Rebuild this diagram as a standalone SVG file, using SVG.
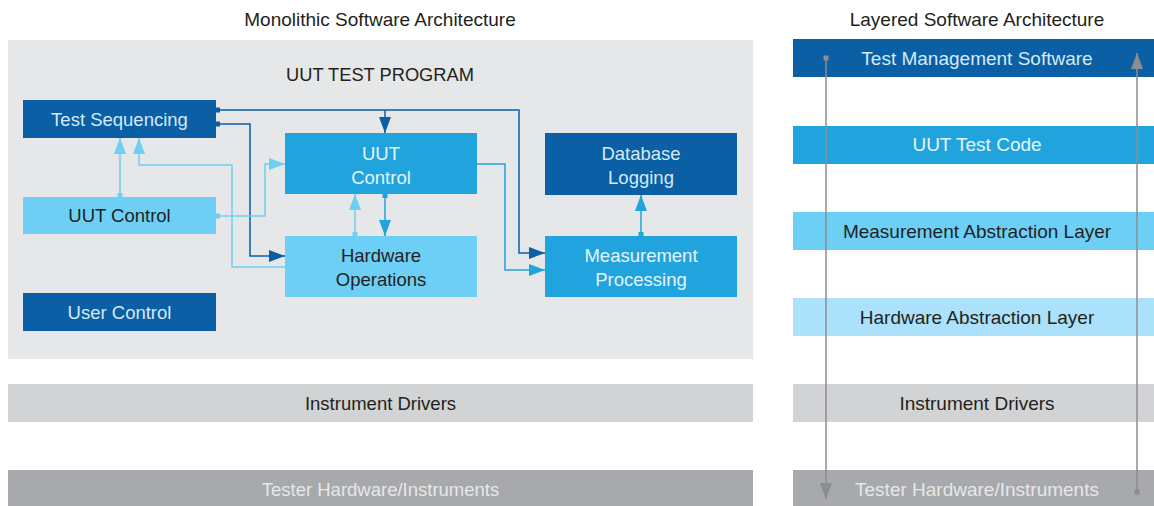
<svg xmlns="http://www.w3.org/2000/svg" width="1154" height="506" viewBox="0 0 1154 506">
<style>
text{font-family:"Liberation Sans",Arial,sans-serif;font-size:18.5px;text-anchor:middle}
.title{font-size:18.3px;fill:#231f20}
.big{font-size:19px}
.dk{fill:#0a5fa5}.md{fill:#21a4dd}.lt{fill:#6dcff6}.xl{fill:#abe1fa}
.g1{fill:#d1d3d4}.g2{fill:#a7a9ac}
.tdk{fill:#d5e9f7}.tmd{fill:#e4f4fc}.tlt{fill:#231f20}.tg2{fill:#e6e7e8}
.c{fill:none;stroke-width:1.5}
.cdk{stroke:#0a5fa5}.cmd{stroke:#21a4dd}.clt{stroke:#6dcff6}.cgr{stroke:#8c8d8f}
.sq-dk{fill:#0a5fa5}.sq-md{fill:#21a4dd}.sq-lt{fill:#6dcff6}.sq-gr{fill:#8c8d8f}
</style>
<defs>
<marker id="adk" markerUnits="userSpaceOnUse" markerWidth="16" markerHeight="12" refX="16" refY="6" orient="auto"><path d="M0,0 L16,6 L0,12 z" fill="#0a5fa5"/></marker>
<marker id="amd" markerUnits="userSpaceOnUse" markerWidth="16" markerHeight="12" refX="16" refY="6" orient="auto"><path d="M0,0 L16,6 L0,12 z" fill="#21a4dd"/></marker>
<marker id="alt" markerUnits="userSpaceOnUse" markerWidth="16" markerHeight="12" refX="16" refY="6" orient="auto"><path d="M0,0 L16,6 L0,12 z" fill="#6dcff6"/></marker>
<marker id="agr" markerUnits="userSpaceOnUse" markerWidth="16" markerHeight="12" refX="16" refY="6" orient="auto"><path d="M0,0 L16,6 L0,12 z" fill="#8c8d8f"/></marker>
</defs>
<rect width="1154" height="506" fill="#ffffff"/>

<text class="title big" x="380" y="26">Monolithic Software Architecture</text>
<text class="title big" x="977" y="26">Layered Software Architecture</text>

<g id="monolithic-panel">
<rect x="8" y="40" width="745" height="319" fill="#e6e7e8"/>
<text class="title" x="380" y="81">UUT TEST PROGRAM</text>
</g>

<g id="test-sequencing"><rect class="dk" x="23" y="100" width="193" height="38"/><text class="tdk" x="119.5" y="125.5">Test Sequencing</text></g>
<g id="uut-control-left"><rect class="lt" x="23" y="197" width="193" height="37"/><text class="tlt" x="119.5" y="222">UUT Control</text></g>
<g id="user-control"><rect class="dk" x="23" y="293" width="193" height="38"/><text class="tdk" x="119.5" y="318.5">User Control</text></g>
<g id="uut-control"><rect class="md" x="285" y="133" width="192" height="61"/><text class="tmd" x="381" y="159.5">UUT</text><text class="tmd" x="381" y="183.5">Control</text></g>
<g id="hardware-operations"><rect class="lt" x="285" y="236" width="192" height="61"/><text class="tlt" x="381" y="262">Hardware</text><text class="tlt" x="381" y="286">Operations</text></g>
<g id="database-logging"><rect class="dk" x="545" y="133" width="192" height="62"/><text class="tdk" x="641" y="159.5">Database</text><text class="tdk" x="641" y="183.5">Logging</text></g>
<g id="measurement-processing"><rect class="md" x="545" y="236" width="192" height="61"/><text class="tmd" x="641" y="262">Measurement</text><text class="tmd" x="641" y="286">Processing</text></g>

<g id="instrument-drivers-left"><rect class="g1" x="8" y="384" width="745" height="38"/><text class="tlt" x="380.5" y="409.5">Instrument Drivers</text></g>
<g id="tester-hardware-left"><rect class="g2" x="8" y="470" width="745" height="36"/><text class="tg2" x="380.5" y="495.5">Tester Hardware/Instruments</text></g>

<g id="test-management-software"><rect class="dk" x="793" y="39" width="361" height="38"/><text class="tdk big" x="977" y="64.5">Test Management Software</text></g>
<g id="uut-test-code"><rect class="md" x="793" y="126" width="361" height="38"/><text class="tmd big" x="977" y="151">UUT Test Code</text></g>
<g id="measurement-abstraction-layer"><rect class="lt" x="793" y="212" width="361" height="38"/><text class="tlt big" x="977" y="237.5">Measurement Abstraction Layer</text></g>
<g id="hardware-abstraction-layer"><rect class="xl" x="793" y="298" width="361" height="38"/><text class="tlt big" x="977" y="323.5">Hardware Abstraction Layer</text></g>
<g id="instrument-drivers-right"><rect class="g1" x="793" y="384" width="361" height="38"/><text class="tlt big" x="977" y="409.5">Instrument Drivers</text></g>
<g id="tester-hardware-right"><rect class="g2" x="793" y="470" width="361" height="36"/><text class="tg2 big" x="977" y="495.5">Tester Hardware/Instruments</text></g>

<g id="connectors">
<path class="c cdk" d="M216,110 H519 V253 H545" marker-end="url(#adk)"/>
<rect class="sq-dk" x="216" y="107.5" width="4" height="5"/>
<path class="c cdk" d="M385,110 V133" marker-end="url(#adk)"/>
<path class="c cdk" d="M216,124 H250 V256 H285" marker-end="url(#adk)"/>
<rect class="sq-dk" x="216" y="121.5" width="4" height="5"/>
<path class="c clt" d="M120,197 V138" marker-end="url(#alt)"/>
<rect class="sq-lt" x="117.5" y="193" width="5" height="4"/>
<path class="c clt" d="M285,267 H232 V165 H139 V138" marker-end="url(#alt)"/>
<path class="c clt" d="M216,216 H265 V164 H285" marker-end="url(#alt)"/>
<rect class="sq-lt" x="216" y="213.5" width="4" height="5"/>
<path class="c clt" d="M355,236 V194" marker-end="url(#alt)"/>
<rect class="sq-lt" x="352.5" y="232" width="5" height="4"/>
<path class="c cmd" d="M385,194 V236" marker-end="url(#amd)"/>
<rect class="sq-md" x="382.5" y="194" width="5" height="4"/>
<path class="c cmd" d="M477,164 H505 V270 H545" marker-end="url(#amd)"/>
<path class="c cmd" d="M641,236 V195" marker-end="url(#amd)"/>
<rect class="sq-md" x="638.5" y="232" width="5" height="4"/>
<path class="c cgr" d="M826,58 V499" marker-end="url(#agr)"/>
<rect class="sq-gr" x="823.5" y="55.5" width="5" height="5"/>
<path class="c cgr" d="M1137,492 V53" marker-end="url(#agr)"/>
<rect class="sq-gr" x="1134.5" y="489.5" width="5" height="5"/>
</g>
</svg>
